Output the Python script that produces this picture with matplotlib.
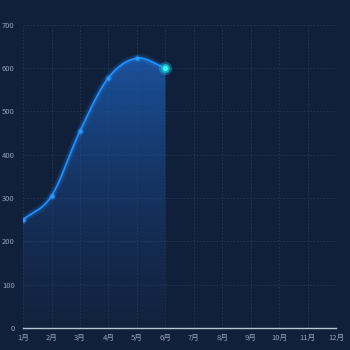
import numpy as np
import matplotlib
matplotlib.use('Agg')
import matplotlib.pyplot as plt
from matplotlib.path import Path
from matplotlib.patches import PathPatch
from matplotlib.colors import LinearSegmentedColormap

plt.rcParams['font.family'] = ['Noto Sans CJK SC', 'DejaVu Sans']

months = ['1月', '2月', '3月', '4月', '5月', '6月', '7月', '8月', '9月', '10月', '11月', '12月']
values = [250, 305, 455, 578, 623, 600]
y_ticks = [0, 100, 200, 300, 400, 500, 600, 700]

BG = '#11203a'
GRID = '#26374f'
TXT = '#94a3ba'
LINE = '#1f8fff'


def smooth_curve(xs, ys, n=40):
    """cubic hermite through the points, catmull-rom tangents"""
    xs = np.asarray(xs, float)
    ys = np.asarray(ys, float)
    m = len(xs)
    tang = np.zeros(m)
    for i in range(m):
        lo, hi = max(i - 1, 0), min(i + 1, m - 1)
        tang[i] = (ys[hi] - ys[lo]) / (xs[hi] - xs[lo])
    ox, oy = [xs[0]], [ys[0]]
    for i in range(m - 1):
        h = xs[i + 1] - xs[i]
        t = np.linspace(0, 1, n)[1:]
        h00 = 2 * t ** 3 - 3 * t ** 2 + 1
        h10 = t ** 3 - 2 * t ** 2 + t
        h01 = -2 * t ** 3 + 3 * t ** 2
        h11 = t ** 3 - t ** 2
        oy.extend(h00 * ys[i] + h10 * h * tang[i] + h01 * ys[i + 1] + h11 * h * tang[i + 1])
        ox.extend(xs[i] + t * h)
    return np.array(ox), np.array(oy)


fig = plt.figure(figsize=(3.5, 3.5), dpi=100, facecolor=BG)
ax = fig.add_axes([0.066, 0.063, 0.894, 0.866], facecolor=BG)

x = np.arange(len(values))
cx, cy = smooth_curve(x, values)

# gradient fill under curve (bright at top, fading to bottom)
verts = [(cx[0], 0)] + list(zip(cx, cy)) + [(cx[-1], 0)]
clip = PathPatch(Path(verts), facecolor='none', edgecolor='none')
ax.add_patch(clip)
cmap = LinearSegmentedColormap.from_list('g', [(0.10, 0.22, 0.42, 0.1), (0.12, 0.38, 0.74, 0.75)])
grad = np.linspace(0, 1, 256)[:, None]
top = max(values)
im = ax.imshow(grad, cmap=cmap, extent=[0, len(values) - 1, 0, top], origin='lower',
               aspect='auto', zorder=1)
im.set_clip_path(clip)

ax.set_xlim(0, len(months) - 1)
ax.set_ylim(0, 700)

# glow + line
for lw, a in [(6, 0.08), (4, 0.15)]:
    ax.plot(cx, cy, color=LINE, lw=lw, alpha=a, zorder=3, solid_capstyle='round')
ax.plot(cx, cy, color=LINE, lw=1.3, zorder=4)

ax.scatter(x[:-1], values[:-1], s=28, color=LINE, alpha=0.25, zorder=5, lw=0)
ax.scatter(x[:-1], values[:-1], s=9, color='#2a9bff', zorder=6, lw=0)
ax.scatter([x[-1]], [values[-1]], s=90, color='#12c6d8', alpha=0.35, zorder=5, lw=0)
ax.scatter([x[-1]], [values[-1]], s=40, color='#13b5c8', zorder=6, lw=0)
ax.scatter([x[-1]], [values[-1]], s=14, color='#3ff5ff', zorder=7, lw=0)

ax.set_xticks(np.arange(len(months)))
ax.set_xticklabels(months)
ax.set_yticks(y_ticks)
ax.grid(True, color=GRID, ls=(0, (2, 2)), lw=0.6, zorder=0)
ax.set_axisbelow(True)
for s in ['top', 'right', 'left']:
    ax.spines[s].set_visible(False)
ax.spines['bottom'].set_color('#b9c4d6')
ax.spines['bottom'].set_linewidth(1)
ax.tick_params(length=0, colors=TXT, labelsize=5.5, pad=4)
ax.tick_params(axis='y', pad=6)

fig.savefig('out.png', dpi=100, facecolor=BG)
